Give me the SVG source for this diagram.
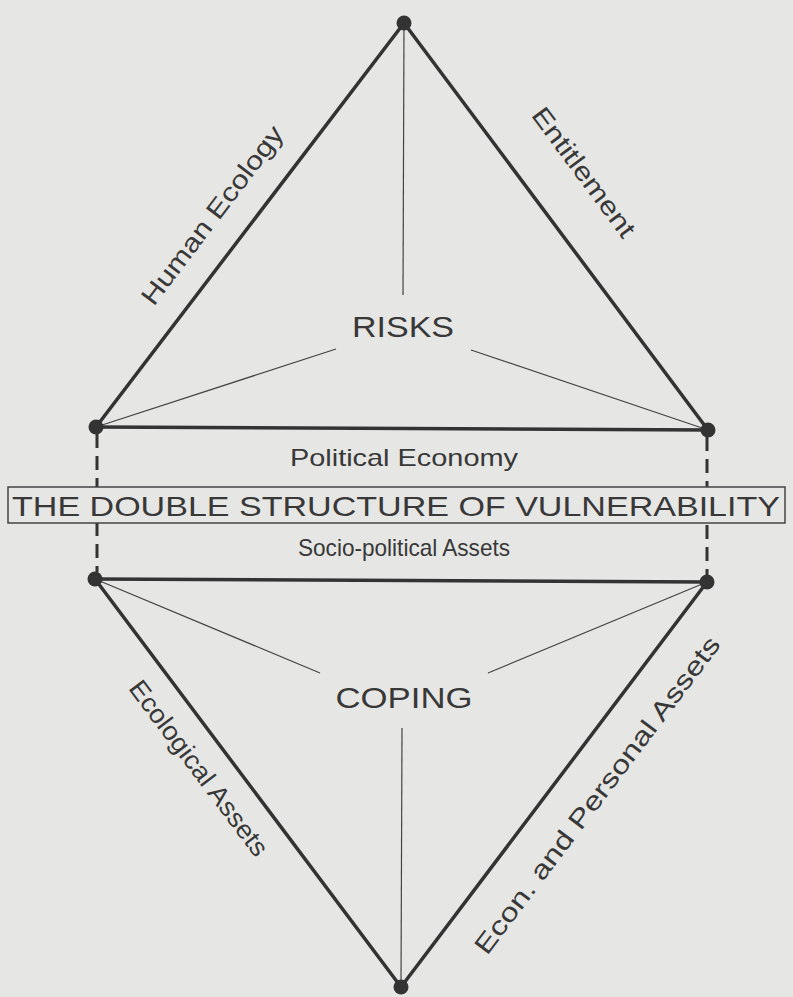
<svg xmlns="http://www.w3.org/2000/svg" width="793" height="997" viewBox="0 0 793 997">
<style>
.edge{stroke:#333;stroke-width:3.5;fill:none;stroke-linecap:round}
.thin{stroke:#444;stroke-width:1.2;fill:none}
.dash{stroke:#333;stroke-width:3;stroke-dasharray:14 8;fill:none}
.dot{fill:#333}
text{font-family:"Liberation Sans",Arial,sans-serif;fill:#383838}
.lbl{font-size:26px;text-anchor:middle}
.mid{font-size:24px;text-anchor:middle}
.big{font-size:30px;text-anchor:middle}
</style>
<rect x="0" y="0" width="793" height="997" fill="#e6e6e4"/>
<g id="connectors">
<line class="edge" x1="404" y1="23" x2="96" y2="427"/>
<line class="edge" x1="404" y1="23" x2="708" y2="430"/>
<line class="edge" x1="96" y1="427" x2="708" y2="430"/>
<line class="thin" x1="404" y1="23" x2="403" y2="295"/>
<line class="thin" x1="96" y1="427" x2="336" y2="349"/>
<line class="thin" x1="708" y1="430" x2="471" y2="350"/>
<line class="dash" x1="97" y1="434" x2="97" y2="572"/>
<line class="dash" x1="707" y1="437" x2="707" y2="575"/>
<line class="edge" x1="95" y1="579" x2="707" y2="582"/>
<line class="edge" x1="95" y1="579" x2="401" y2="987"/>
<line class="edge" x1="707" y1="582" x2="401" y2="987"/>
<line class="thin" x1="95" y1="579" x2="320" y2="673"/>
<line class="thin" x1="707" y1="582" x2="488" y2="673"/>
<line class="thin" x1="402" y1="728" x2="401" y2="987"/>
</g>
<g id="node-top"><circle class="dot" cx="404" cy="23" r="7.5"/></g>
<g id="node-upper-left"><circle class="dot" cx="96" cy="427" r="7.5"/></g>
<g id="node-upper-right"><circle class="dot" cx="708" cy="430" r="7.5"/></g>
<g id="node-lower-left"><circle class="dot" cx="95" cy="579" r="7.5"/></g>
<g id="node-lower-right"><circle class="dot" cx="707" cy="582" r="7.5"/></g>
<g id="node-bottom"><circle class="dot" cx="401" cy="987" r="7.5"/></g>
<g id="risks"><text class="big" x="403" y="337" textLength="102" lengthAdjust="spacingAndGlyphs">RISKS</text></g>
<g id="coping"><text class="big" x="404" y="708" textLength="137" lengthAdjust="spacingAndGlyphs">COPING</text></g>
<g id="label-human-ecology"><text class="lbl" transform="translate(212,215) rotate(-52.8)" dy="0.35em" textLength="217" lengthAdjust="spacingAndGlyphs">Human Ecology</text></g>
<g id="label-entitlement"><text class="lbl" transform="translate(584,172) rotate(53.4)" dy="0.35em" textLength="155" lengthAdjust="spacingAndGlyphs">Entitlement</text></g>
<g id="label-political-economy"><text class="mid" x="404" y="466" textLength="228" lengthAdjust="spacingAndGlyphs">Political Economy</text></g>
<g id="title">
<rect x="8" y="487" width="777" height="36" fill="#e6e6e4" stroke="#444" stroke-width="1.5"/>
<text x="396" y="516" font-size="28" text-anchor="middle" textLength="768" lengthAdjust="spacingAndGlyphs">THE DOUBLE STRUCTURE OF VULNERABILITY</text>
</g>
<g id="label-socio-political"><text class="mid" x="404" y="556" textLength="212" lengthAdjust="spacingAndGlyphs">Socio-political Assets</text></g>
<g id="label-ecological"><text class="lbl" transform="translate(199,768) rotate(53)" dy="0.35em" textLength="213" lengthAdjust="spacingAndGlyphs">Ecological Assets</text></g>
<g id="label-econ-personal"><text class="lbl" transform="translate(597,795) rotate(-53)" dy="0.35em" textLength="390" lengthAdjust="spacingAndGlyphs">Econ. and Personal Assets</text></g>
</svg>
